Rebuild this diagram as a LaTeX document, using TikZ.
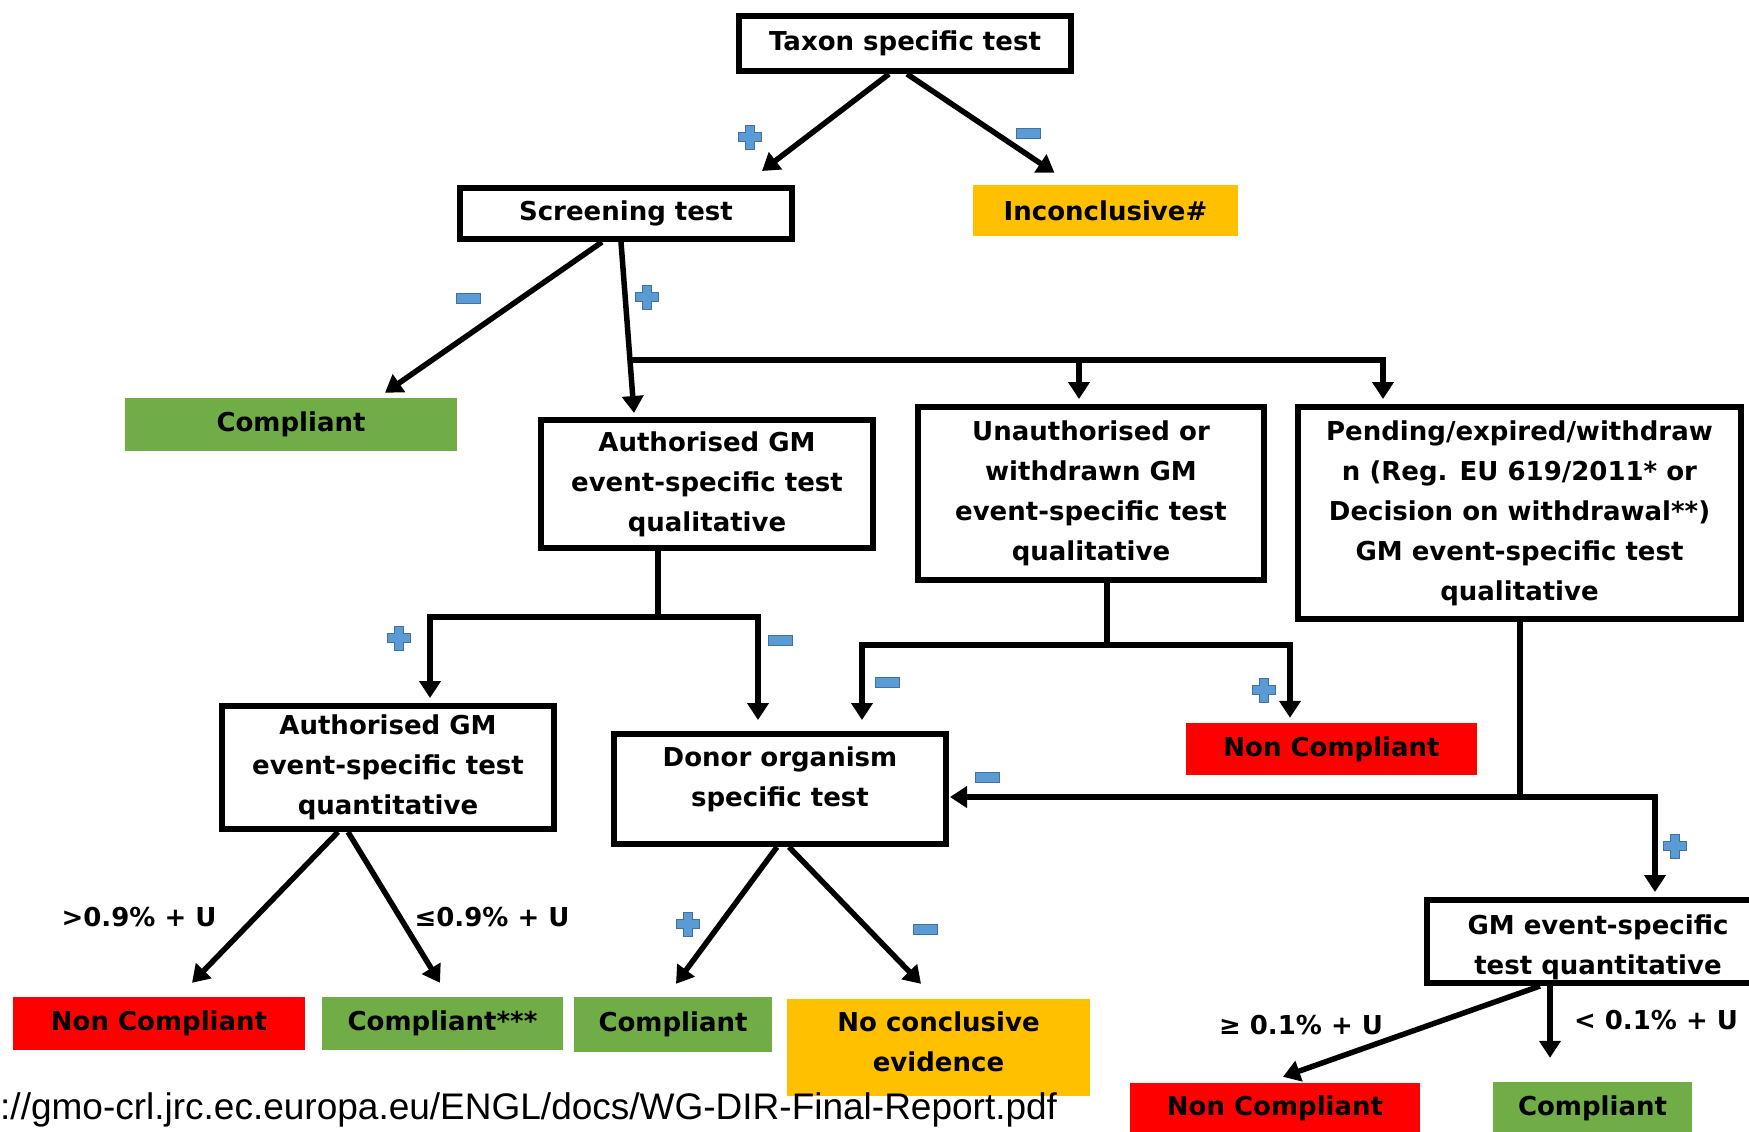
\documentclass[tikz,border=0pt]{standalone}
\usepackage{fontspec}
\setmainfont{DejaVu Sans}
\newfontfamily\urlfont{Liberation Sans}
\usetikzlibrary{arrows.meta}
\definecolor{gr}{HTML}{70AD47}
\definecolor{rd}{HTML}{FF0000}
\definecolor{og}{HTML}{FFC000}
\definecolor{ib}{HTML}{5B9BD5}
\definecolor{ie}{HTML}{41719C}
\begin{document}
\begin{tikzpicture}[x=1pt,y=-1pt,
  txt/.style={font=\bfseries\fontsize{26}{40}\selectfont, align=center, inner sep=0pt, text=black},
  box/.style={txt, draw, line width=6pt, fill=white},
  res/.style={txt, draw=none},
  ln/.style={line width=5.5pt, line join=miter},
  arr/.style={line width=5.5pt, line join=miter, -{Triangle[length=17pt,width=21pt]}},
  plusicon/.pic={\filldraw[fill=ib,draw=ie,line width=1pt] (-4.5,-12)--(4.5,-12)--(4.5,-4.5)--(11.5,-4.5)--(11.5,4.5)--(4.5,4.5)--(4.5,12)--(-4.5,12)--(-4.5,4.5)--(-11.5,4.5)--(-11.5,-4.5)--(-4.5,-4.5)--cycle;},
  minusicon/.pic={\filldraw[fill=ib,draw=ie,line width=1pt] (-12,-5) rectangle (12,5);}]
\clip (0,0) rectangle (1749,1132);
\fill[white] (0,0) rectangle (1749,1132);

% boxes
\node[box, minimum width=332pt, minimum height=55pt] (taxon) at (905,43.5) {Taxon specific test};
\node[box, minimum width=332pt, minimum height=51pt] (scr) at (626,213.5) {Screening test};
\node[res, fill=og, minimum width=265pt, minimum height=51pt] (inc) at (1105.5,210.5) {Inconclusive\#};
\node[res, fill=gr, minimum width=332pt, minimum height=53pt] (comp1) at (291,424.5) {Compliant};
\node[box, minimum width=332pt, minimum height=128pt] (aqual) at (707,484) {Authorised GM\\event-specific test\\qualitative};
\node[box, minimum width=346pt, minimum height=173pt] (unauth) at (1091,493.5) {Unauthorised or\\withdrawn GM\\event-specific test\\qualitative};
\node[box, minimum width=443pt, minimum height=212pt] (pend) at (1519.5,513) {Pending/expired/withdraw\\n (Reg. EU 619/2011* or\\Decision on withdrawal**)\\GM event-specific test\\qualitative};
\node[box, minimum width=332pt, minimum height=123pt] (aquant) at (388,767.5) {Authorised GM\\event-specific test\\quantitative};
\node[box, minimum width=332pt, minimum height=110pt] (donor) at (780,789) {};
\node[txt] (donorT) at (780,779) {Donor organism\\specific test};
\node[res, fill=rd, minimum width=291pt, minimum height=52pt] (nc1) at (1331.5,749) {Non Compliant};
\node[box, minimum width=342pt, minimum height=83pt] (gmq) at (1598,941.5) {};
\node[txt] (gmqT) at (1598,947) {GM event-specific\\test quantitative};
\node[res, fill=rd, minimum width=292pt, minimum height=53pt] (ncbl) at (159,1023.5) {Non Compliant};
\node[res, fill=gr, minimum width=241pt, minimum height=53pt] (comp3) at (442.5,1023.5) {Compliant***};
\node[res, fill=gr, minimum width=198pt, minimum height=55pt] (compbm) at (673,1024.5) {Compliant};
\node[res, fill=og, minimum width=303pt, minimum height=97pt] (nce) at (938.5,1047.5) {};
\node[txt] (nceT) at (938.5,1042) {No conclusive\\evidence};
\node[res, fill=rd, minimum width=290pt, minimum height=50pt] (ncbr) at (1275,1108) {Non Compliant};
\node[res, fill=gr, minimum width=199pt, minimum height=52pt] (compbr) at (1592.5,1108) {Compliant};

% connectors
\draw[arr] ([xshift=-16pt]taxon.south) -- ([xshift=136pt,yshift=14pt]scr.north);
\draw[arr] ([xshift=2pt]taxon.south) -- ([xshift=-51pt,yshift=12pt]inc.north);
\draw[arr] ([xshift=-24pt]scr.south) -- ([xshift=94pt,yshift=5pt]comp1.north);
\draw[arr] ([xshift=-5pt]scr.south) -- ([xshift=-73pt,yshift=4pt]aqual.north);
\coordinate (b1) at (630,360);
\coordinate (b2) at (1079,360);
\draw[ln] (b1) -- (b2);
\draw[arr] (b2) -- ([xshift=-12pt,yshift=5pt]unauth.north);
\draw[arr] (b2) -| ([xshift=-136.5pt,yshift=5pt]pend.north);

\coordinate (j1) at (658,617);
\draw[ln] (aqual.south -| j1) -- (j1);
\draw[arr] (j1) -| ([xshift=42pt,yshift=5pt]aquant.north);
\draw[arr] (j1) -| ([xshift=-22pt,yshift=11pt]donor.north);

\coordinate (j2) at (1107,645);
\draw[ln] (unauth.south -| j2) -- (j2);
\draw[arr] (j2) -| ([xshift=82pt,yshift=11pt]donor.north);
\draw[arr] (j2) -| ([xshift=-41.5pt,yshift=5pt]nc1.north);

\coordinate (j3) at (1520,797);
\draw[ln] (pend.south -| j3) -- (j3);
\draw[arr] (j3) -- ([xshift=1pt,yshift=-8pt]donor.east);
\draw[arr] (j3) -| ([xshift=57pt,yshift=5pt]gmq.north);

\draw[arr] ([xshift=-50pt]aquant.south) -- ([xshift=33pt,yshift=14pt]ncbl.north);
\draw[arr] ([xshift=-40pt]aquant.south) -- ([xshift=-2.5pt,yshift=14pt]comp3.north);
\draw[arr] ([xshift=-3pt]donor.south) -- ([xshift=3pt,yshift=13pt]compbm.north);
\draw[arr] ([xshift=9pt]donor.south) -- ([xshift=-17.5pt,yshift=15pt]nce.north);
\draw[arr] ([xshift=-58pt]gmq.south) -- ([xshift=8pt,yshift=6pt]ncbr.north);
\draw[arr] ([xshift=-48pt]gmq.south) -- ([xshift=-42.5pt,yshift=24pt]compbr.north);

% labels
\node[txt] (l1) at (139,917) {>0.9\% + U};
\node[txt] (l2) at (492,917) {≤0.9\% + U};
\node[txt] (l3) at (1301,1025) {≥ 0.1\% + U};
\node[txt] (l4) at (1656,1020) {< 0.1\% + U};

% plus / minus icons
\pic at (750,137) {plusicon};
\pic at (1028,133) {minusicon};
\pic at (468,298) {minusicon};
\pic at (647,297) {plusicon};
\pic at (399,638) {plusicon};
\pic at (780,640) {minusicon};
\pic at (887,682) {minusicon};
\pic at (1264,690) {plusicon};
\pic at (987,777) {minusicon};
\pic at (1675,846) {plusicon};
\pic at (688,924) {plusicon};
\pic at (925,929) {minusicon};

% source
\node[anchor=base west, inner sep=0pt, font=\urlfont\fontsize{37}{40}\selectfont] (src) at (0,1119) {://gmo-crl.jrc.ec.europa.eu/ENGL/docs/WG-DIR-Final-Report.pdf};
\end{tikzpicture}
\end{document}
